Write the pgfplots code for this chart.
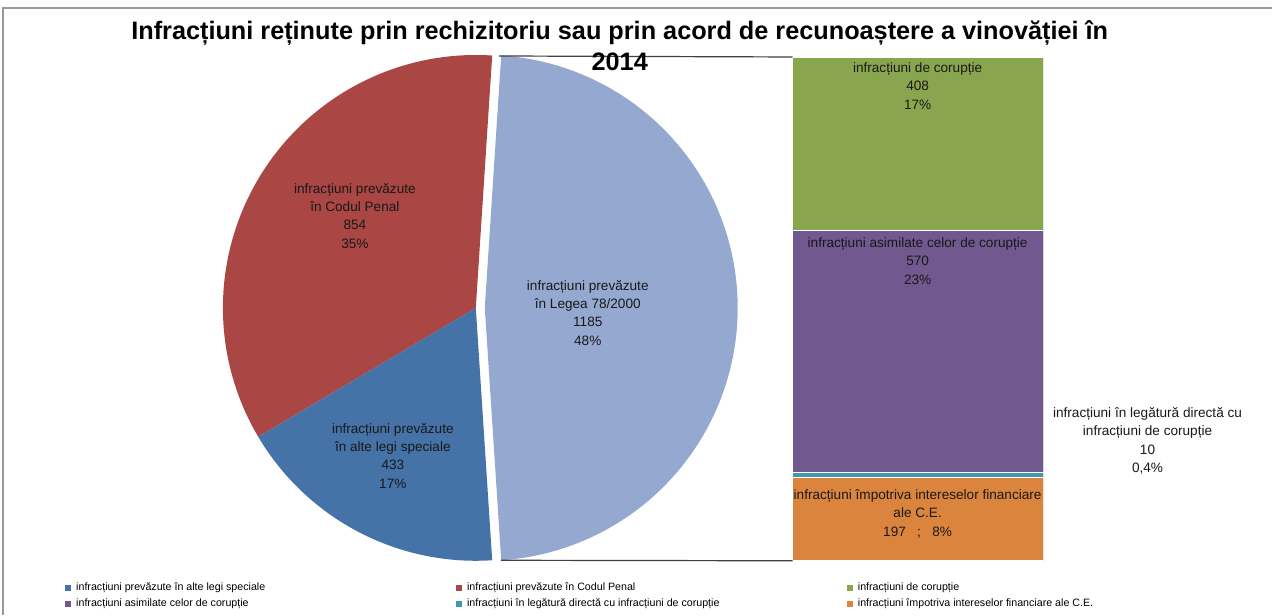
\documentclass[border=0pt]{standalone}
\usepackage{pgfplots}
\pgfplotsset{compat=1.18}
\usepackage{fontspec}
\setmainfont{Liberation Sans}
\definecolor{cBlue}{HTML}{4572A7}
\definecolor{cRed}{HTML}{AA4643}
\definecolor{cLight}{HTML}{95A9D0}
\definecolor{cGreen}{HTML}{89A54E}
\definecolor{cPurple}{HTML}{71588F}
\definecolor{cTeal}{HTML}{4198AF}
\definecolor{cOrange}{HTML}{DB843D}
% pie values
\def\vAlte{433}
\def\vCod{854}
\def\vLege{1185}
% bar values (breakdown of Legea 78/2000)
\def\vCor{408}
\def\vAsim{570}
\def\vLeg{10}
\def\vImp{197}
\begin{document}
\begin{tikzpicture}
\pgfmathsetmacro{\tot}{\vAlte+\vCod+\vLege}
\pgfmathsetmacro{\h}{\vLege/\tot*180}
\pgfmathsetmacro{\aR}{\h+\vCod/\tot*360}
\pgfmathsetmacro{\aE}{360-\h}
\pgfmathsetmacro{\mh}{-\h}
\fill[white] (0,0) rectangle (954.75pt,461.25pt);
% stacked bar (pie of bar)
\begin{axis}[at={(594.75pt,40.5pt)}, anchor=south west, scale only axis,
  width=188.25pt, height=378pt, xmin=-0.5, xmax=0.5, ymin=0, ymax=1185,
  hide axis, ybar stacked, bar width=1]
\addplot[fill=cOrange, draw=white, line width=0.6pt] coordinates {(0,\vImp)};
\addplot[fill=cTeal, draw=white, line width=0.6pt] coordinates {(0,\vLeg)};
\addplot[fill=cPurple, draw=white, line width=0.6pt] coordinates {(0,\vAsim)};
\addplot[fill=cGreen, draw=white, line width=0.6pt] coordinates {(0,\vCor)};
\end{axis}
\begin{axis}[at={(0,0)}, anchor=south west, scale only axis,
  width=954.75pt, height=461.25pt, xmin=0, xmax=1273, ymin=0, ymax=615,
  y dir=reverse, hide axis, clip=false,
  legend image code/.code={\path[#1] (0pt,-2.25pt) rectangle (4.5pt,2.25pt);},
  legend style={draw=none, fill=none, at={(axis cs:61,580)}, anchor=north west,
    legend columns=3, font=\fontsize{8pt}{9pt}\selectfont,
    nodes={inner sep=0pt, text height=6pt, text depth=2pt},
    row sep=4pt,
    /tikz/every odd column/.append style={column sep=3.75pt},
    /tikz/every even column/.append style={column sep=0pt}},
  legend cell align=left]
% border
\draw[black!40, line width=0.8pt] (axis cs:3,615) -- (axis cs:3,8) -- (axis cs:1273,8);
% pie slices
\addplot[forget plot, fill=cLight, draw=none, domain=\mh:\h, samples=150, variable=\t]
  ({485+253*cos(t)}, {308-253*sin(t)}) -- (axis cs:485,308) -- cycle;
\addplot[forget plot, fill=cRed, draw=none, domain=\h:\aR, samples=150, variable=\t]
  ({476+253*cos(t)}, {308-253*sin(t)}) -- (axis cs:476,308) -- cycle;
\addplot[forget plot, fill=cBlue, draw=none, domain=\aR:\aE, samples=100, variable=\t]
  ({476+253*cos(t)}, {308-253*sin(t)}) -- (axis cs:476,308) -- cycle;
% connector lines
\addplot[forget plot, black!75, line width=0.9pt] coordinates {(499,56) (793,57)};
\addplot[forget plot, black!75, line width=0.9pt] coordinates {(501,560.5) (793,561)};
% title
\node[align=center, font=\fontsize{18.95pt}{23pt}\selectfont\bfseries] at (axis cs:620,46)
  {Infracțiuni reținute prin rechizitoriu sau prin acord de recunoaștere a vinovăției în\\2014};
% data labels
\begin{scope}[every node/.style={align=center, text=black!90, font=\fontsize{10.2pt}{13.7pt}\selectfont}]
\node at (axis cs:355,216) {infracțiuni prevăzute\\în Codul Penal\\854\\35\%};
\node at (axis cs:393,456) {infracțiuni prevăzute\\în alte legi speciale\\433\\17\%};
\node at (axis cs:588,313) {infracțiuni prevăzute\\în Legea 78/2000\\1185\\48\%};
\node at (axis cs:918,86) {infracțiuni de corupție\\408\\17\%};
\node at (axis cs:918,261) {infracțiuni asimilate celor de corupție\\570\\23\%};
\node at (axis cs:918,514) {infracțiuni împotriva intereselor financiare\\ale C.E.\\197\ \ \ ;\ \ \ 8\%};
\node at (axis cs:1148,441) {infracțiuni în legătură directă cu\\infracțiuni de corupție\\10\\0,4\%};
\end{scope}
% legend
\addlegendimage{fill=cBlue, draw=none}
\addlegendentry{\makebox[285pt][l]{infracțiuni prevăzute în alte legi speciale}}
\addlegendimage{fill=cRed, draw=none}
\addlegendentry{\makebox[285pt][l]{infracțiuni prevăzute în Codul Penal}}
\addlegendimage{fill=cGreen, draw=none}
\addlegendentry{infracțiuni de corupție}
\addlegendimage{fill=cPurple, draw=none}
\addlegendentry{\makebox[285pt][l]{infracțiuni asimilate celor de corupție}}
\addlegendimage{fill=cTeal, draw=none}
\addlegendentry{\makebox[285pt][l]{infracțiuni în legătură directă cu infracțiuni de corupție}}
\addlegendimage{fill=cOrange, draw=none}
\addlegendentry{infracțiuni împotriva intereselor financiare ale C.E.}
\end{axis}
\end{tikzpicture}
\end{document}
